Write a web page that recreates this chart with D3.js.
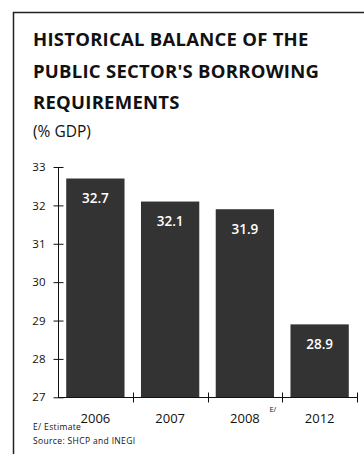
<!DOCTYPE html>
<html>
<head>
<meta charset="utf-8">
<script src="https://cdn.jsdelivr.net/npm/d3@7"></script>
<style>
  html, body { margin: 0; padding: 0; background: #ffffff; }
  svg { display: block; }
  text { font-family: "Open Sans", "Noto Sans", sans-serif; fill: #111; }
</style>
</head>
<body>
<svg id="chart" width="364" height="454"></svg>
<script>
// Data
const years = ["2006", "2007", "2008", "2012"];
const values = [32.7, 32.1, 31.9, 28.9];
const yTicks = [27, 28, 29, 30, 31, 32, 33];
const estimateYears = ["2008"];
const titleLines = ["HISTORICAL BALANCE OF THE", "PUBLIC SECTOR'S BORROWING", "REQUIREMENTS"];
const subtitle = "(% GDP)";
const notes = ["E/ Estimate", "Source: SHCP and INEGI"];

const svg = d3.select("#chart");

// Frame
svg.append("path")
  .attr("d", "M13.5,454 V12.5 H364")
  .attr("fill", "none")
  .attr("stroke", "#222")
  .attr("stroke-width", 1.5);

// Title block
svg.selectAll("text.title")
  .data(titleLines)
  .join("text")
  .attr("class", "title")
  .attr("x", 33)
  .attr("y", (d, i) => 46 + i * 31.5)
  .attr("font-size", 18.5)
  .attr("font-weight", "bold")
  .attr("letter-spacing", 0.25)
  .text(d => d);

svg.append("text")
  .attr("x", 33)
  .attr("y", 137)
  .attr("font-size", 15.5)
  .text(subtitle);

// Scales
const x = d3.scaleBand()
  .domain(years)
  .range([58, 357])
  .paddingInner(0.22)
  .paddingOuter(0.11);

const y = d3.scaleLinear()
  .domain([27, 33])
  .range([397.3, 167]);

// Bars
svg.selectAll("rect.bar")
  .data(years)
  .join("rect")
  .attr("class", "bar")
  .attr("x", d => x(d))
  .attr("width", x.bandwidth())
  .attr("y", (d, i) => y(values[i]))
  .attr("height", (d, i) => y(27) - y(values[i]))
  .attr("fill", "#333333");

// Value labels inside bars
svg.selectAll("text.val")
  .data(years)
  .join("text")
  .attr("class", "val")
  .attr("x", d => x(d) + x.bandwidth() / 2)
  .attr("y", (d, i) => y(values[i]) + 24.5)
  .attr("text-anchor", "middle")
  .attr("font-size", 13.5)
  .attr("font-weight", 600)
  .style("fill", "#ffffff")
  .text((d, i) => values[i].toFixed(1));

// Y axis
const yAxis = svg.append("g")
  .attr("transform", "translate(58.5,0)")
  .call(d3.axisLeft(y).tickValues(yTicks).tickSize(5).tickPadding(8).tickFormat(d3.format("d")));
yAxis.select(".domain").attr("d", `M0,${y(33)}V${y(27)}`).attr("stroke", "#111");
yAxis.selectAll(".tick line").attr("x1", 5).attr("stroke", "#111");
yAxis.selectAll(".tick text")
  .attr("font-size", 11.5)
  .attr("font-family", null)
  .attr("fill", null)
  .style("fill", "#111");

// X axis
const xAxis = svg.append("g")
  .attr("transform", `translate(0,${y(27) + 0.2})`)
  .call(d3.axisBottom(x).tickSize(0).tickPadding(0));
xAxis.select(".domain").attr("d", `M58,0H357`).attr("stroke", "#111");
xAxis.selectAll(".tick text")
  .attr("y", 25)
  .attr("dy", null)
  .attr("font-size", 13)
  .attr("font-family", null)
  .attr("fill", null)
  .style("fill", "#111");

// Band boundary ticks crossing the x axis
const gap = x.step() - x.bandwidth();
xAxis.selectAll("line.sep")
  .data(years)
  .join("line")
  .attr("class", "sep")
  .attr("x1", d => Math.round(x(d) + x.bandwidth() + gap / 2) + 0.5)
  .attr("x2", d => Math.round(x(d) + x.bandwidth() + gap / 2) + 0.5)
  .attr("y1", -5)
  .attr("y2", 5)
  .attr("stroke", "#111");

// Estimate marker
svg.selectAll("text.est")
  .data(estimateYears)
  .join("text")
  .attr("class", "est")
  .attr("x", d => x(d) + x.bandwidth() / 2 + 24.5)
  .attr("y", 412)
  .attr("font-size", 7.5)
  .text("E/");

// Notes
svg.selectAll("text.note")
  .data(notes)
  .join("text")
  .attr("class", "note")
  .attr("x", 33)
  .attr("y", (d, i) => 430 + i * 14)
  .attr("font-size", 8.5)
  .attr("letter-spacing", 0.35)
  .text(d => d);
</script>
</body>
</html>
